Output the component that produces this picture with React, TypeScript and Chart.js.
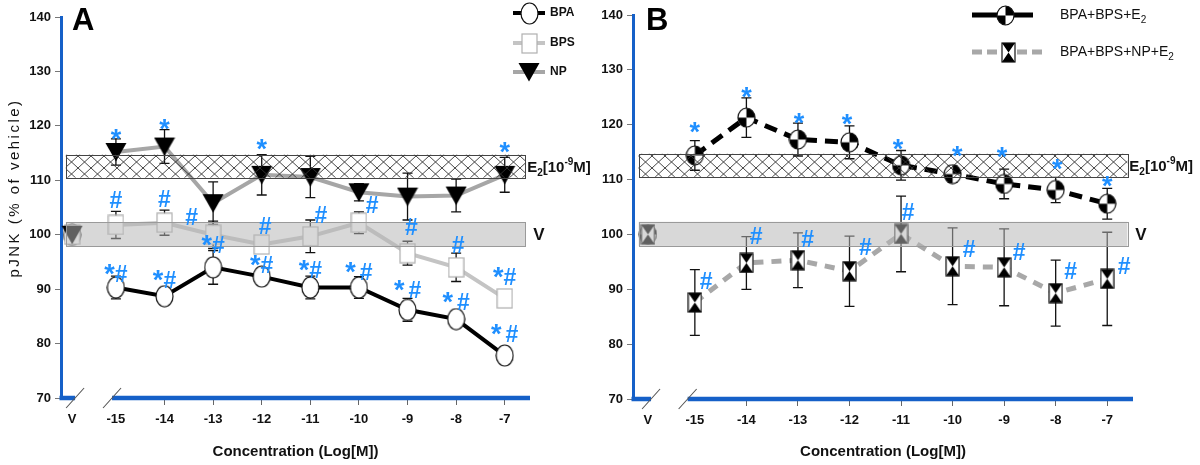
import React, { useEffect, useRef } from 'react';
import { Chart, registerables } from 'chart.js';

Chart.register(...registerables);

// ---------- data ----------
const concentrations = [-15, -14, -13, -12, -11, -10, -9, -8, -7];
const xTickLabels = ['V', '-15', '-14', '-13', '-12', '-11', '-10', '-9', '-8', '-7'];
const vehicleValue = 100;

// Panel A
const bpaValues = [90.3, 88.7, 94.0, 92.3, 90.3, 90.3, 86.2, 84.5, 77.8];
const bpaErrors = [2.1, 1.0, 3.1, 1.0, 2.1, 2.0, 2.1, 1.2, 0.8];
const bpsValues = [101.8, 102.2, 100.0, 98.2, 99.7, 102.2, 96.6, 94.0, 88.3];
const bpsErrors = [2.5, 2.3, 2.5, 1.5, 3.0, 2.0, 2.2, 2.6, 1.0];
const npValues = [115.2, 116.2, 105.8, 111.0, 110.6, 107.8, 107.0, 107.2, 111.0];
const npErrors = [2.4, 3.1, 3.9, 3.7, 3.8, 1.6, 4.3, 3.0, 3.2];

// Panel B
const mixE2Values = [114.4, 121.3, 117.3, 116.8, 112.6, 111.0, 109.2, 108.1, 105.6];
const mixE2Errors = [2.7, 3.6, 3.0, 3.0, 2.7, 1.5, 2.7, 2.3, 2.8];
const mixNpE2Values = [87.6, 94.8, 95.3, 93.3, 100.1, 94.2, 94.0, 89.3, 91.9];
const mixNpE2Errors = [6.0, 4.8, 5.0, 6.4, 6.9, 7.0, 7.0, 6.0, 8.5];

// reference bands
const e2Band = [110.5, 114.7];
const vehicleBand = [97.9, 102.3];

// significance marks: [x, y, text]
const marksA: [number, number, string][] = [
  [-15, 118.9, '*'], [-14, 120.7, '*'], [-12, 116.9, '*'], [-7, 116.5, '*'],
  [-15, 106.4, '#'], [-14, 106.6, '#'], [-13.44, 103.3, '#'], [-11.93, 101.7, '#'],
  [-10.78, 103.7, '#'], [-9.73, 105.5, '#'], [-8.92, 101.5, '#'], [-7.96, 98.2, '#'], [-7, 92.3, '*#'],
  [-15, 92.7, '*#'], [-14, 91.7, '*#'], [-13, 98.2, '*#'], [-12, 94.5, '*#'], [-11, 93.6, '*#'],
  [-10, 93.2, '* #'], [-9, 89.9, '* #'], [-8, 87.7, '* #'], [-7, 81.7, '* #'],
];
const marksB: [number, number, string][] = [
  [-15, 119.8, '*'], [-14, 126.3, '*'], [-12.98, 121.6, '*'], [-12.05, 121.3, '*'], [-11.06, 116.8, '*'],
  [-9.91, 115.5, '*'], [-9.04, 115.3, '*'], [-7.97, 113.2, '*'], [-7, 110.1, '*'],
  [-14.78, 91.5, '#'], [-13.81, 99.8, '#'], [-12.81, 99.2, '#'], [-11.69, 97.7, '#'], [-10.86, 104.1, '#'],
  [-9.68, 97.4, '#'], [-8.71, 96.8, '#'], [-7.71, 93.3, '#'], [-6.67, 94.2, '#'],
];

// ---------- styles ----------
const AXIS_BLUE = '#1560c8';
const MARK_BLUE = '#1f8fff';
const FONT = "'Liberation Sans', Arial, Helvetica, sans-serif";

function makeCanvas(w: number, h: number, draw: (ctx: CanvasRenderingContext2D, w: number, h: number) => void) {
  const c = document.createElement('canvas');
  c.width = w;
  c.height = h;
  const ctx = c.getContext('2d')!;
  draw(ctx, w, h);
  return c;
}

function makeMarkers() {
  const circle = makeCanvas(19, 23, (ctx, w, h) => {
    ctx.beginPath();
    ctx.ellipse(w / 2, h / 2, w / 2 - 1, h / 2 - 1, 0, 0, Math.PI * 2);
    ctx.fillStyle = '#fff';
    ctx.fill();
    ctx.lineWidth = 1.2;
    ctx.strokeStyle = '#111';
    ctx.stroke();
  });
  const square = makeCanvas(17, 21, (ctx, w, h) => {
    ctx.fillStyle = '#fff';
    ctx.fillRect(1, 1, w - 2, h - 2);
    ctx.lineWidth = 1.2;
    ctx.strokeStyle = '#b0b0b0';
    ctx.strokeRect(1, 1, w - 2, h - 2);
  });
  const triangle = makeCanvas(22, 20, (ctx, w, h) => {
    ctx.beginPath();
    ctx.moveTo(0.5, 1);
    ctx.lineTo(w - 0.5, 1);
    ctx.lineTo(w / 2, h - 0.5);
    ctx.closePath();
    ctx.fillStyle = '#000';
    ctx.fill();
  });
  const quartered = makeCanvas(19, 21, (ctx, w, h) => {
    ctx.save();
    ctx.beginPath();
    ctx.ellipse(w / 2, h / 2, w / 2 - 1, h / 2 - 1, 0, 0, Math.PI * 2);
    ctx.fillStyle = '#fff';
    ctx.fill();
    ctx.clip();
    ctx.fillStyle = '#000';
    ctx.fillRect(w / 2, 0, w / 2, h / 2);
    ctx.fillRect(0, h / 2, w / 2, h / 2);
    ctx.restore();
    ctx.beginPath();
    ctx.ellipse(w / 2, h / 2, w / 2 - 1, h / 2 - 1, 0, 0, Math.PI * 2);
    ctx.lineWidth = 1.2;
    ctx.strokeStyle = '#111';
    ctx.stroke();
  });
  const hourglass = makeCanvas(15, 21, (ctx, w, h) => {
    ctx.fillStyle = '#fff';
    ctx.fillRect(1, 1, w - 2, h - 2);
    ctx.fillStyle = '#000';
    ctx.beginPath();
    ctx.moveTo(1, 1);
    ctx.lineTo(w - 1, 1);
    ctx.lineTo(w / 2, h / 2);
    ctx.closePath();
    ctx.moveTo(1, h - 1);
    ctx.lineTo(w - 1, h - 1);
    ctx.lineTo(w / 2, h / 2);
    ctx.closePath();
    ctx.fill();
    ctx.lineWidth = 1.2;
    ctx.strokeStyle = '#111';
    ctx.strokeRect(1, 1, w - 2, h - 2);
  });
  return { circle, square, triangle, quartered, hourglass };
}

function makeHatch() {
  return makeCanvas(13, 12, (ctx, w, h) => {
    ctx.strokeStyle = '#333';
    ctx.lineWidth = 0.9;
    ctx.beginPath();
    ctx.moveTo(-1, -h / w);
    ctx.lineTo(w + 1, h + h / w);
    ctx.moveTo(w + 1, -h / w);
    ctx.lineTo(-1, h + h / w);
    ctx.stroke();
  });
}

type Series = {
  label: string;
  values: number[];
  errors: number[];
  color: string;
  width: number;
  dash: number[];
  marker: HTMLCanvasElement;
};

type LegendRow = {
  y: number;
  label: string;
  color: string;
  width: number;
  dash: number[];
  marker: HTMLCanvasElement;
  lineFrom: number;
  lineTo: number;
  markerX: number;
  textX: number;
  sub: boolean;
};

type Panel = {
  letter: string;
  letterX: number;
  xMin: number;
  xMax: number;
  vPos: number;
  breakEnd: number;
  breakStart: number;
  top: number;
  right: number;
  yAxisWidth: number;
  xAxisHeight: number;
  bandX: [number, number];
  series: Series[];
  marks: [number, number, string][];
  legend: LegendRow[];
  legendFont: string;
  yTitle: boolean;
};

function drawE2Label(ctx: CanvasRenderingContext2D, x: number, yMid: number) {
  const base = yMid + 5.5;
  const big = `bold 15px ${FONT}`;
  const small = `bold 10px ${FONT}`;
  ctx.textAlign = 'left';
  ctx.textBaseline = 'alphabetic';
  ctx.fillStyle = '#111';
  const parts: [string, string, number][] = [
    ['E', big, 0], ['2', small, 4], ['[10', big, 0], ['-9', small, -7], ['M]', big, 0],
  ];
  let cx = x;
  for (const [t, f, dy] of parts) {
    ctx.font = f;
    ctx.fillText(t, cx, base + dy);
    cx += ctx.measureText(t).width;
  }
}

function drawLegendText(ctx: CanvasRenderingContext2D, text: string, x: number, y: number, font: string, sub: boolean) {
  ctx.textAlign = 'left';
  ctx.textBaseline = 'middle';
  ctx.fillStyle = '#111';
  ctx.font = font;
  if (!sub) {
    ctx.fillText(text, x, y);
    return;
  }
  const main = text.slice(0, -1);
  ctx.fillText(main, x, y);
  const w = ctx.measureText(main).width;
  ctx.font = font.replace('14px', '10px');
  ctx.fillText(text.slice(-1), x + w, y + 5);
}

// draws "*", "#", "*#", "* #" with a larger star
function drawMark(ctx: CanvasRenderingContext2D, txt: string, cx: number, cy: number) {
  const starFont = `bold 27px ${FONT}`;
  const hashFont = `bold 23px ${FONT}`;
  const fontOf = (ch: string) => (ch === '#' ? hashFont : starFont);
  let total = 0;
  const widths: number[] = [];
  for (const ch of txt) {
    ctx.font = ch === ' ' ? hashFont : fontOf(ch);
    const w = ch === ' ' ? 4 : ctx.measureText(ch).width;
    widths.push(w);
    total += w;
  }
  const base = txt.includes('#') ? cy + 0.35 * 23 : cy + 0.58 * 27;
  let x = cx - total / 2;
  ctx.textAlign = 'left';
  ctx.textBaseline = 'alphabetic';
  [...txt].forEach((ch, i) => {
    if (ch !== ' ') {
      ctx.font = fontOf(ch);
      ctx.fillText(ch, x, base + (ch === '*' && txt.includes('#') ? 1 : 0));
    }
    x += widths[i];
  });
}

function panelPlugin(p: Panel, hatchTile: HTMLCanvasElement) {
  return {
    id: 'panel' + p.letter,
    beforeDatasetsDraw(chart: any) {
      const { ctx } = chart;
      const sx = chart.scales.x;
      const sy = chart.scales.y;
      ctx.save();
      ctx.strokeStyle = '#111';
      ctx.lineWidth = 1.3;
      for (const s of p.series) {
        concentrations.forEach((c, i) => {
          const px = sx.getPixelForValue(c);
          const top = sy.getPixelForValue(s.values[i] + s.errors[i]);
          const bot = sy.getPixelForValue(s.values[i] - s.errors[i]);
          ctx.beginPath();
          ctx.moveTo(px, top);
          ctx.lineTo(px, bot);
          ctx.moveTo(px - 5, top);
          ctx.lineTo(px + 5, top);
          ctx.moveTo(px - 5, bot);
          ctx.lineTo(px + 5, bot);
          ctx.stroke();
        });
      }
      ctx.restore();
    },
    afterDatasetsDraw(chart: any) {
      const { ctx } = chart;
      const sx = chart.scales.x;
      const sy = chart.scales.y;
      const l = sx.getPixelForValue(p.bandX[0]);
      const r = sx.getPixelForValue(p.bandX[1]);
      ctx.save();
      // vehicle band
      let t = sy.getPixelForValue(vehicleBand[1]);
      let b = sy.getPixelForValue(vehicleBand[0]);
      ctx.fillStyle = 'rgba(181,181,181,0.53)';
      ctx.fillRect(l, t, r - l, b - t);
      ctx.strokeStyle = '#9a9a9a';
      ctx.lineWidth = 1;
      ctx.strokeRect(Math.round(l) + 0.5, Math.round(t) + 0.5, Math.round(r - l), Math.round(b - t));
      // E2 band
      t = sy.getPixelForValue(e2Band[1]);
      b = sy.getPixelForValue(e2Band[0]);
      const pat = ctx.createPattern(hatchTile, 'repeat');
      ctx.fillStyle = pat;
      ctx.fillRect(l, t, r - l, b - t);
      ctx.strokeStyle = '#444';
      ctx.strokeRect(Math.round(l) + 0.5, Math.round(t) + 0.5, Math.round(r - l), Math.round(b - t));
      // band labels
      drawE2Label(ctx, r + 2, (t + b) / 2);
      ctx.font = `bold 17px ${FONT}`;
      ctx.textAlign = 'left';
      ctx.textBaseline = 'middle';
      ctx.fillStyle = '#111';
      ctx.fillText('V', r + 8, (sy.getPixelForValue(vehicleBand[0]) + sy.getPixelForValue(vehicleBand[1])) / 2 + 1);
      // significance marks
      ctx.fillStyle = MARK_BLUE;
      for (const [xv, yv, txt] of p.marks) {
        drawMark(ctx, txt, sx.getPixelForValue(xv), sy.getPixelForValue(yv));
      }
      ctx.restore();
    },
    afterDraw(chart: any) {
      const { ctx, chartArea } = chart;
      const sx = chart.scales.x;
      const y0 = chartArea.bottom;
      ctx.save();
      // broken x axis
      const e1 = sx.getPixelForValue(p.breakEnd);
      const s2 = sx.getPixelForValue(p.breakStart);
      ctx.strokeStyle = AXIS_BLUE;
      ctx.lineWidth = 4.5;
      ctx.beginPath();
      ctx.moveTo(chartArea.left - 1.5, y0);
      ctx.lineTo(e1, y0);
      ctx.moveTo(s2, y0);
      ctx.lineTo(chartArea.right, y0);
      ctx.stroke();
      ctx.strokeStyle = '#555';
      ctx.lineWidth = 1.1;
      ctx.beginPath();
      for (const px of [e1, s2]) {
        ctx.moveTo(px - 9, y0 + 10);
        ctx.lineTo(px + 9, y0 - 10);
      }
      ctx.stroke();
      // x title
      ctx.font = `bold 15px ${FONT}`;
      ctx.fillStyle = '#111';
      ctx.textAlign = 'center';
      ctx.textBaseline = 'middle';
      ctx.fillText('Concentration (Log[M])', (chartArea.left + chartArea.right) / 2, 452);
      // y title
      if (p.yTitle) {
        ctx.save();
        ctx.translate(15, 188);
        ctx.rotate(-Math.PI / 2);
        ctx.font = `15px ${FONT}`;
        (ctx as any).letterSpacing = '2.5px';
        ctx.textAlign = 'center';
        ctx.textBaseline = 'middle';
        ctx.fillText('pJNK (% of vehicle)', 0, 0);
        ctx.restore();
      }
      // panel letter
      ctx.font = `bold 31px ${FONT}`;
      ctx.textAlign = 'left';
      ctx.textBaseline = 'alphabetic';
      ctx.fillStyle = '#000';
      ctx.fillText(p.letter, p.letterX, 30);
      // legend
      for (const row of p.legend) {
        ctx.strokeStyle = row.color;
        ctx.lineWidth = row.width;
        ctx.setLineDash(row.dash);
        ctx.beginPath();
        ctx.moveTo(row.lineFrom, row.y);
        ctx.lineTo(row.lineTo, row.y);
        ctx.stroke();
        ctx.setLineDash([]);
        const m = row.marker;
        ctx.drawImage(m, Math.round(row.markerX - m.width / 2), Math.round(row.y - m.height / 2));
        drawLegendText(ctx, row.label, row.textX, row.y, p.legendFont, row.sub);
      }
      ctx.restore();
    },
  };
}

function buildConfig(p: Panel, hatchTile: HTMLCanvasElement): any {
  const tickVals = [p.vPos, ...concentrations];
  const gapX = (p.vPos + concentrations[0]) / 2;
  return {
    type: 'line',
    data: {
      datasets: p.series.map((s, k) => ({
        label: s.label,
        order: k,
        data: [
          { x: p.vPos, y: vehicleValue },
          { x: gapX, y: null },
          ...concentrations.map((c, i) => ({ x: c, y: s.values[i] })),
        ],
        borderColor: s.color,
        borderWidth: s.width,
        borderDash: s.dash,
        pointStyle: s.marker,
        pointRadius: 10,
        pointHoverRadius: 10,
        pointBackgroundColor: '#fff',
        pointBorderColor: '#000',
        spanGaps: false,
        tension: 0,
        clip: false,
      })),
    },
    options: {
      responsive: false,
      maintainAspectRatio: false,
      animation: false,
      events: [],
      layout: { padding: { left: 0, top: p.top, right: p.right, bottom: 0 } },
      plugins: { legend: { display: false }, tooltip: { enabled: false } },
      scales: {
        x: {
          type: 'linear',
          min: p.xMin,
          max: p.xMax,
          border: { display: false },
          grid: {
            drawOnChartArea: false,
            tickLength: 7,
            lineWidth: 1,
            color: (c: any) => (c.index < 2 ? 'rgba(0,0,0,0)' : '#666'),
          },
          afterBuildTicks: (s: any) => {
            s.ticks = tickVals.map((v) => ({ value: v }));
          },
          afterFit: (s: any) => {
            s.height = p.xAxisHeight;
          },
          ticks: {
            autoSkip: false,
            maxRotation: 0,
            padding: 7,
            color: '#111',
            font: { family: FONT, size: 13, weight: 'bold' },
            callback: (_v: any, i: number) => xTickLabels[i],
          },
        },
        y: {
          min: 70,
          max: 140,
          border: { display: true, color: AXIS_BLUE, width: 3 },
          grid: { drawOnChartArea: false, tickLength: 6, color: '#777' },
          afterFit: (s: any) => {
            s.width = p.yAxisWidth;
          },
          ticks: {
            stepSize: 10,
            padding: 4,
            color: '#111',
            font: { family: FONT, size: 13, weight: 'bold' },
          },
        },
      },
    },
    plugins: [panelPlugin(p, hatchTile)],
  };
}

export default function App() {
  const refA = useRef<HTMLCanvasElement>(null);
  const refB = useRef<HTMLCanvasElement>(null);

  useEffect(() => {
    const mk = makeMarkers();
    const hatch = makeHatch();
    const panelA: Panel = {
      letter: 'A',
      letterX: 72,
      xMin: -16.13,
      xMax: -6.48,
      vPos: -15.9,
      breakEnd: -15.84,
      breakStart: -15.08,
      top: 17,
      right: 70,
      yAxisWidth: 61,
      xAxisHeight: 67,
      bandX: [-16.03, -6.58],
      series: [
        { label: 'NP', values: npValues, errors: npErrors, color: '#a6a6a6', width: 4, dash: [], marker: mk.triangle },
        { label: 'BPS', values: bpsValues, errors: bpsErrors, color: '#c4c4c4', width: 4, dash: [], marker: mk.square },
        { label: 'BPA', values: bpaValues, errors: bpaErrors, color: '#000', width: 4, dash: [], marker: mk.circle },
      ],
      marks: marksA,
      legend: [
        { y: 13, label: 'BPA', color: '#000', width: 4, dash: [], marker: mk.circle, lineFrom: 513, lineTo: 545, markerX: 529, textX: 550, sub: false },
        { y: 43, label: 'BPS', color: '#c4c4c4', width: 4, dash: [], marker: mk.square, lineFrom: 513, lineTo: 545, markerX: 529, textX: 550, sub: false },
        { y: 72, label: 'NP', color: '#a6a6a6', width: 4, dash: [], marker: mk.triangle, lineFrom: 513, lineTo: 545, markerX: 529, textX: 550, sub: false },
      ],
      legendFont: `bold 12px ${FONT}`,
      yTitle: true,
    };
    const panelB: Panel = {
      letter: 'B',
      letterX: 46,
      xMin: -16.2,
      xMax: -6.5,
      vPos: -15.91,
      breakEnd: -15.85,
      breakStart: -15.14,
      top: 11,
      right: 67,
      yAxisWidth: 33,
      xAxisHeight: 66,
      bandX: [-16.09, -6.61],
      series: [
        { label: 'BPA+BPS+NP+E2', values: mixNpE2Values, errors: mixNpE2Errors, color: '#a8a8a8', width: 5, dash: [10, 8], marker: mk.hourglass },
        { label: 'BPA+BPS+E2', values: mixE2Values, errors: mixE2Errors, color: '#000', width: 5, dash: [13, 8], marker: mk.quartered },
      ],
      marks: marksB,
      legend: [
        { y: 15, label: 'BPA+BPS+E2', color: '#000', width: 5, dash: [], marker: mk.quartered, lineFrom: 372, lineTo: 433, markerX: 405, textX: 460, sub: true },
        { y: 52, label: 'BPA+BPS+NP+E2', color: '#a8a8a8', width: 5, dash: [10, 5], marker: mk.hourglass, lineFrom: 372, lineTo: 445, markerX: 408, textX: 460, sub: true },
      ],
      legendFont: `14px ${FONT}`,
      yTitle: false,
    };
    const a = new Chart(refA.current!, buildConfig(panelA, hatch));
    const b = new Chart(refB.current!, buildConfig(panelB, hatch));
    return () => {
      a.destroy();
      b.destroy();
    };
  }, []);

  return (
    <div style={{ position: 'absolute', left: 0, top: 0, width: 1200, height: 465, background: '#fff' }}>
      <canvas ref={refA} width={600} height={465} style={{ position: 'absolute', left: 0, top: 0 }} />
      <canvas ref={refB} width={600} height={465} style={{ position: 'absolute', left: 600, top: 0 }} />
    </div>
  );
}
